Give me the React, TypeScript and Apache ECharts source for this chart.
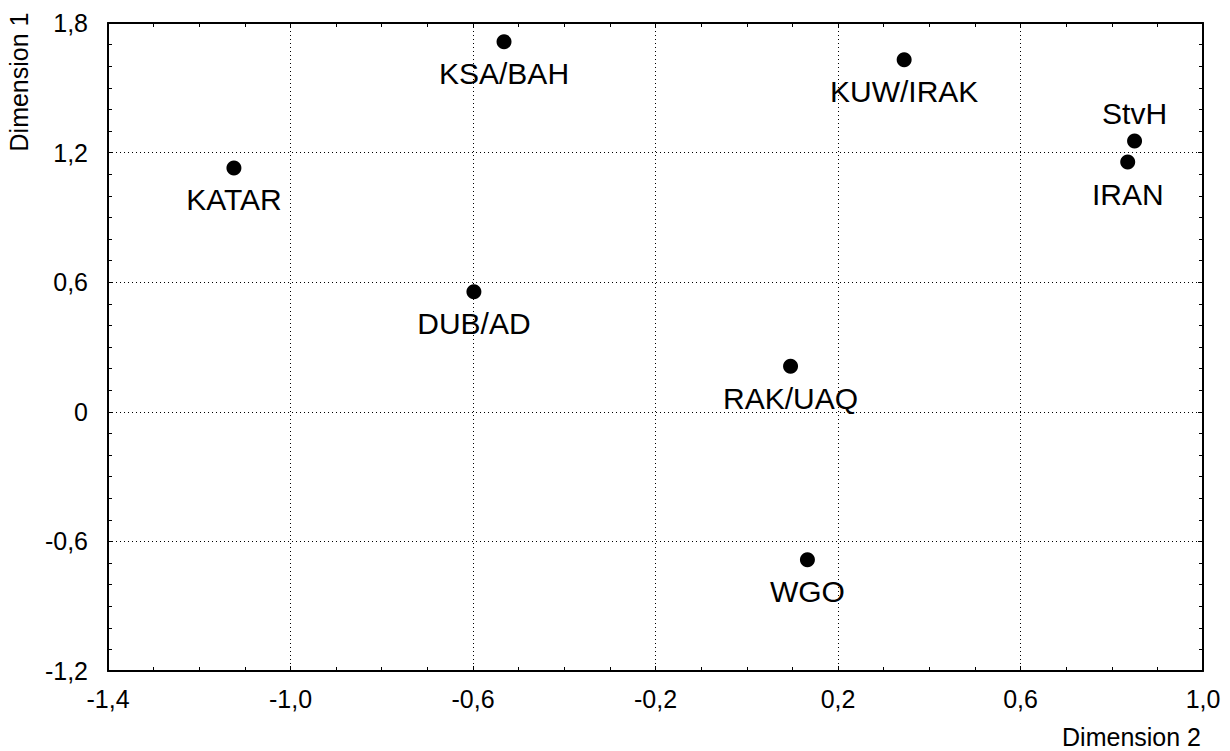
import React, { useEffect, useRef } from "react";
import * as echarts from "echarts";

const pointNames = ["KATAR", "KSA/BAH", "KUW/IRAK", "StvH", "IRAN", "DUB/AD", "RAK/UAQ", "WGO"];
const dimension2Values = [-1.124, -0.532, 0.345, 0.85, 0.835, -0.598, 0.096, 0.133];
const dimension1Values = [1.129, 1.713, 1.63, 1.254, 1.156, 0.556, 0.211, -0.685];
const labelSides = ["below", "below", "below", "above", "below", "below", "below", "below"];

const xTickValues = [-1.4, -1.0, -0.6, -0.2, 0.2, 0.6, 1.0];
const yTickValues = [-1.2, -0.6, 0, 0.6, 1.2, 1.8];

const xAxisTitle = "Dimension 2";
const yAxisTitle = "Dimension 1";

const FONT = "'Liberation Sans', Arial, Helvetica, sans-serif";

function fmt(v: number): string {
  if (Math.abs(v) < 1e-9) return "0";
  return v.toFixed(1).replace(".", ",");
}

function buildOption() {
  const xMin = xTickValues[0];
  const xMax = xTickValues[xTickValues.length - 1];
  const xInt = Math.round((xTickValues[1] - xTickValues[0]) * 10) / 10;
  const yMin = yTickValues[0];
  const yMax = yTickValues[yTickValues.length - 1];
  const yInt = Math.round((yTickValues[1] - yTickValues[0]) * 10) / 10;

  const axisLine = { show: true, onZero: false, lineStyle: { color: "#000", width: 2 } };
  const tick = { show: true, inside: true, length: 5, lineStyle: { color: "#000", width: 1 } };
  const minor = (n: number) => ({ show: true, splitNumber: n, length: 4, lineStyle: { color: "#000", width: 1 } });
  const split = { show: true, lineStyle: { color: "#000", width: 1, type: [1, 3] as number[] } };
  const label = { fontFamily: FONT, fontSize: 25, color: "#000" };

  const data = pointNames.map((name, i) => ({
    name,
    value: [dimension2Values[i], dimension1Values[i]],
    label: {
      offset: labelSides[i] === "above" ? [0, -27] : [0, 32],
    },
  }));

  return {
    animation: false,
    backgroundColor: "#fff",
    grid: { left: 108, right: 27, top: 23, bottom: 80, containLabel: false },
    xAxis: [
      {
        type: "value",
        position: "bottom",
        min: xMin,
        max: xMax,
        interval: xInt,
        axisLine,
        axisTick: tick,
        minorTick: minor(4),
        splitLine: split,
        axisLabel: { ...label, margin: 15, formatter: fmt },
      },
      {
        type: "value",
        position: "top",
        min: xMin,
        max: xMax,
        interval: xInt,
        axisLine,
        axisTick: tick,
        minorTick: minor(4),
        splitLine: { show: false },
        axisLabel: { show: false },
      },
    ],
    yAxis: [
      {
        type: "value",
        position: "left",
        min: yMin,
        max: yMax,
        interval: yInt,
        axisLine,
        axisTick: tick,
        minorTick: minor(6),
        splitLine: split,
        axisLabel: { ...label, margin: 20, formatter: fmt },
      },
      {
        type: "value",
        position: "right",
        min: yMin,
        max: yMax,
        interval: yInt,
        axisLine,
        axisTick: tick,
        minorTick: minor(6),
        splitLine: { show: false },
        axisLabel: { show: false },
      },
    ],
    graphic: [
      {
        type: "text",
        x: 1201,
        y: 737,
        style: {
          text: xAxisTitle,
          fontFamily: FONT,
          fontSize: 25,
          fill: "#000",
          align: "right",
          verticalAlign: "middle",
        },
      },
      {
        type: "text",
        x: 19,
        y: 82,
        rotation: Math.PI / 2,
        style: {
          text: yAxisTitle,
          fontFamily: FONT,
          fontSize: 25,
          fill: "#000",
          align: "center",
          verticalAlign: "middle",
        },
      },
    ],
    series: [
      {
        type: "scatter",
        xAxisIndex: 0,
        yAxisIndex: 0,
        symbol: "circle",
        symbolSize: 15,
        itemStyle: { color: "#000", opacity: 1 },
        label: {
          show: true,
          position: "inside",
          formatter: "{b}",
          fontFamily: FONT,
          fontSize: 30,
          color: "#000",
          opacity: 1,
          textBorderWidth: 0,
          align: "center",
          verticalAlign: "middle",
        },
        emphasis: { disabled: true },
        data,
      },
    ],
  };
}

export default function App() {
  const ref = useRef<HTMLDivElement>(null);
  useEffect(() => {
    document.body.style.margin = "0";
    const chart = echarts.init(ref.current as HTMLDivElement, null, { renderer: "svg" });
    chart.setOption(buildOption() as any);
    return () => {
      chart.dispose();
    };
  }, []);
  return <div ref={ref} style={{ width: 1230, height: 751 }} />;
}
